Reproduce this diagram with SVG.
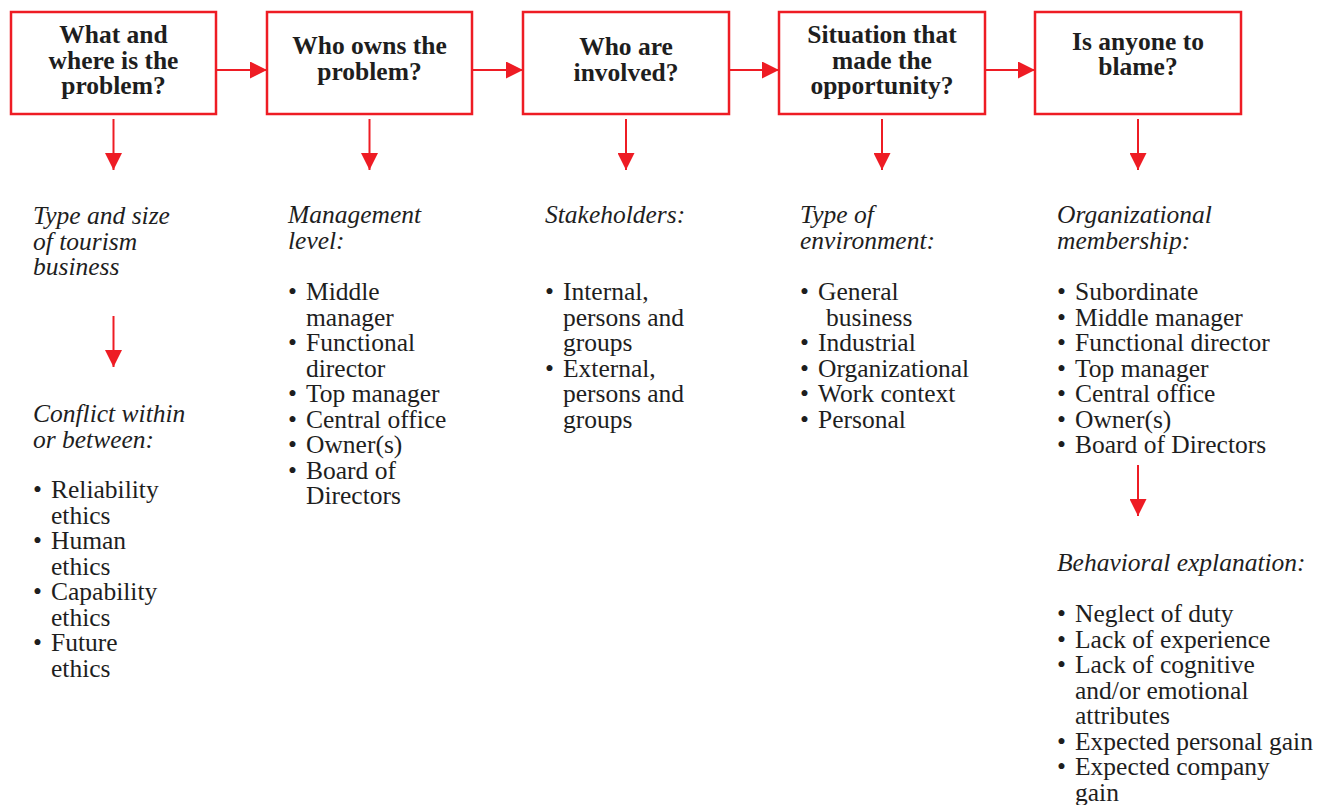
<svg xmlns="http://www.w3.org/2000/svg" width="1328" height="805" viewBox="0 0 1328 805">
<style>
.box{fill:#fff;stroke:#ee1c24;stroke-width:2.5}
.t{font-family:"Liberation Serif","Times New Roman",serif;font-size:25.5px;fill:#1e1e1e}
.b{font-weight:bold;text-anchor:middle}
.i{font-style:italic}
.c{stroke:#ee1c24;stroke-width:2;fill:none}
</style>
<defs>
<marker id="ah" viewBox="0 0 17 17" refX="17" refY="8.5" markerWidth="17" markerHeight="17" markerUnits="userSpaceOnUse" orient="auto">
<path d="M0,0 L17,8.5 L0,17 Z" fill="#ee1c24"/>
</marker>
</defs>
<rect width="1328" height="805" fill="#fff"/>
<g id="connectors">
<line class="c" x1="216" y1="70" x2="267" y2="70" marker-end="url(#ah)"/>
<line class="c" x1="472" y1="70" x2="523" y2="70" marker-end="url(#ah)"/>
<line class="c" x1="729" y1="70" x2="779" y2="70" marker-end="url(#ah)"/>
<line class="c" x1="985" y1="70" x2="1035" y2="70" marker-end="url(#ah)"/>
<line class="c" x1="113.5" y1="119" x2="113.5" y2="170" marker-end="url(#ah)"/>
<line class="c" x1="369.5" y1="119" x2="369.5" y2="170" marker-end="url(#ah)"/>
<line class="c" x1="626" y1="119" x2="626" y2="170" marker-end="url(#ah)"/>
<line class="c" x1="882" y1="119" x2="882" y2="170" marker-end="url(#ah)"/>
<line class="c" x1="1138" y1="119" x2="1138" y2="170" marker-end="url(#ah)"/>
<line class="c" x1="113.5" y1="316" x2="113.5" y2="367" marker-end="url(#ah)"/>
<line class="c" x1="1138" y1="465" x2="1138" y2="516" marker-end="url(#ah)"/>
</g>
<g id="node1">
<rect class="box" x="11" y="12" width="205" height="102"/>
<text class="t b" x="113.5" y="43">What and</text>
<text class="t b" x="113.5" y="68.5">where is the</text>
<text class="t b" x="113.5" y="94">problem?</text>
</g>
<g id="node2">
<rect class="box" x="267" y="12" width="205" height="102"/>
<text class="t b" x="369.5" y="54">Who owns the</text>
<text class="t b" x="369.5" y="79.5">problem?</text>
</g>
<g id="node3">
<rect class="box" x="523" y="12" width="206" height="102"/>
<text class="t b" x="626" y="55">Who are</text>
<text class="t b" x="626" y="80.5">involved?</text>
</g>
<g id="node4">
<rect class="box" x="779" y="12" width="206" height="102"/>
<text class="t b" x="882" y="43">Situation that</text>
<text class="t b" x="882" y="68.5">made the</text>
<text class="t b" x="882" y="94">opportunity?</text>
</g>
<g id="node5">
<rect class="box" x="1035" y="12" width="206" height="102"/>
<text class="t b" x="1138" y="50">Is anyone to</text>
<text class="t b" x="1138" y="75">blame?</text>
</g>
<g id="col1">
<text class="t i" x="33" y="224">Type and size</text>
<text class="t i" x="33" y="249.5">of tourism</text>
<text class="t i" x="33" y="275">business</text>
<text class="t i" x="33" y="422">Conflict within</text>
<text class="t i" x="33" y="447.5">or between:</text>
<text class="t" x="33" y="498">•</text><text class="t" x="51" y="498">Reliability</text>
<text class="t" x="51" y="523.5">ethics</text>
<text class="t" x="33" y="549">•</text><text class="t" x="51" y="549">Human</text>
<text class="t" x="51" y="574.5">ethics</text>
<text class="t" x="33" y="600">•</text><text class="t" x="51" y="600">Capability</text>
<text class="t" x="51" y="625.5">ethics</text>
<text class="t" x="33" y="651">•</text><text class="t" x="51" y="651">Future</text>
<text class="t" x="51" y="676.5">ethics</text>
</g>
<g id="col2">
<text class="t i" x="288" y="223">Management</text>
<text class="t i" x="288" y="248.5">level:</text>
<text class="t" x="288" y="300">•</text><text class="t" x="306" y="300">Middle</text>
<text class="t" x="306" y="325.5">manager</text>
<text class="t" x="288" y="351">•</text><text class="t" x="306" y="351">Functional</text>
<text class="t" x="306" y="376.5">director</text>
<text class="t" x="288" y="402">•</text><text class="t" x="306" y="402">Top manager</text>
<text class="t" x="288" y="427.5">•</text><text class="t" x="306" y="427.5">Central office</text>
<text class="t" x="288" y="453">•</text><text class="t" x="306" y="453">Owner(s)</text>
<text class="t" x="288" y="478.5">•</text><text class="t" x="306" y="478.5">Board of</text>
<text class="t" x="306" y="504">Directors</text>
</g>
<g id="col3">
<text class="t i" x="545" y="223">Stakeholders:</text>
<text class="t" x="545" y="300">•</text><text class="t" x="563" y="300">Internal,</text>
<text class="t" x="563" y="325.5">persons and</text>
<text class="t" x="563" y="351">groups</text>
<text class="t" x="545" y="376.5">•</text><text class="t" x="563" y="376.5">External,</text>
<text class="t" x="563" y="402">persons and</text>
<text class="t" x="563" y="427.5">groups</text>
</g>
<g id="col4">
<text class="t i" x="800" y="223">Type of</text>
<text class="t i" x="800" y="248.5">environment:</text>
<text class="t" x="800" y="300">•</text><text class="t" x="818" y="300">General</text>
<text class="t" x="826" y="325.5">business</text>
<text class="t" x="800" y="351">•</text><text class="t" x="818" y="351">Industrial</text>
<text class="t" x="800" y="376.5">•</text><text class="t" x="818" y="376.5">Organizational</text>
<text class="t" x="800" y="402">•</text><text class="t" x="818" y="402">Work context</text>
<text class="t" x="800" y="427.5">•</text><text class="t" x="818" y="427.5">Personal</text>
</g>
<g id="col5">
<text class="t i" x="1057" y="223">Organizational</text>
<text class="t i" x="1057" y="248.5">membership:</text>
<text class="t" x="1057" y="300">•</text><text class="t" x="1075" y="300">Subordinate</text>
<text class="t" x="1057" y="325.5">•</text><text class="t" x="1075" y="325.5">Middle manager</text>
<text class="t" x="1057" y="351">•</text><text class="t" x="1075" y="351">Functional director</text>
<text class="t" x="1057" y="376.5">•</text><text class="t" x="1075" y="376.5">Top manager</text>
<text class="t" x="1057" y="402">•</text><text class="t" x="1075" y="402">Central office</text>
<text class="t" x="1057" y="427.5">•</text><text class="t" x="1075" y="427.5">Owner(s)</text>
<text class="t" x="1057" y="453">•</text><text class="t" x="1075" y="453">Board of Directors</text>
<text class="t i" x="1057" y="571">Behavioral explanation:</text>
<text class="t" x="1057" y="622">•</text><text class="t" x="1075" y="622">Neglect of duty</text>
<text class="t" x="1057" y="647.5">•</text><text class="t" x="1075" y="647.5">Lack of experience</text>
<text class="t" x="1057" y="673">•</text><text class="t" x="1075" y="673">Lack of cognitive</text>
<text class="t" x="1075" y="698.5">and/or emotional</text>
<text class="t" x="1075" y="724">attributes</text>
<text class="t" x="1057" y="749.5">•</text><text class="t" x="1075" y="749.5">Expected personal gain</text>
<text class="t" x="1057" y="775">•</text><text class="t" x="1075" y="775">Expected company</text>
<text class="t" x="1075" y="800.5">gain</text>
</g>
</svg>
